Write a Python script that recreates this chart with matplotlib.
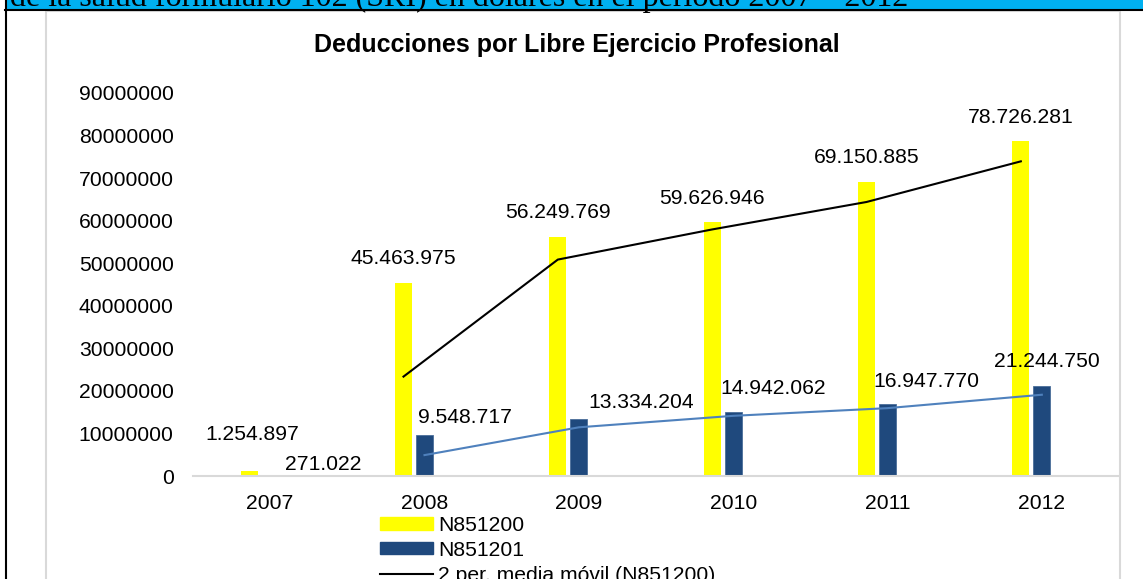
import matplotlib.pyplot as plt
from matplotlib.patches import Rectangle, Patch
from matplotlib.lines import Line2D
import pandas as pd

plt.rcParams['font.family'] = ['Liberation Sans', 'DejaVu Sans']

years = ['2007', '2008', '2009', '2010', '2011', '2012']
n851200 = [1254897, 45463975, 56249769, 59626946, 69150885, 78726281]
n851201 = [271022, 9548717, 13334204, 14942062, 16947770, 21244750]

title = 'Deducciones por Libre Ejercicio Profesional'
banner = 'de la salud formulario 102 (SRI) en dólares en el período 2007 – 2012'

# label offsets from the top of each bar, in pixels (dx, up)
lab200 = [(3, 36), (0, 24), (0, 24), (0, 24), (0, 24), (0, 23)]
lab201 = [(53, 10), (41, 18), (62, 17), (40, 24), (39, 22), (5, 24)]

W, H = 1143, 579
fig = plt.figure(figsize=(W / 100, H / 100), dpi=100)


def fx(px):
    return px / W


def fy(py):
    return 1 - py / H


# page decoration around the chart
fig.add_artist(Rectangle((fx(7), fy(9)), 1 - fx(7), 9 / H, transform=fig.transFigure,
                         facecolor='#00B0F0', edgecolor='none', zorder=0))
fig.text(fx(10), fy(6), banner, family='Liberation Serif', fontsize=23,
         va='baseline', ha='left', color='black')
fig.add_artist(Line2D([fx(5), 1], [fy(10), fy(10)], transform=fig.transFigure,
                      color='black', lw=1.5))
fig.add_artist(Line2D([fx(6), fx(6)], [fy(0), 0], transform=fig.transFigure,
                      color='black', lw=1.5))
fig.add_artist(Rectangle((fx(46), fy(620)), fx(1120) - fx(46), (620 - 11) / H,
                         transform=fig.transFigure, facecolor='none',
                         edgecolor='#D9D9D9', lw=1.5))

ax = fig.add_axes([fx(193), fy(476), (1119 - 193) / W, (476 - 93) / H])
ax.patch.set_visible(False)

x = list(range(len(years)))
cat_px = (1119 - 193) / len(years)
bw = 17 / cat_px
off = 21 / cat_px
x200 = [i - off for i in x]
x201 = list(x)

ax.bar(x200, n851200, width=bw, color='#FFFF00', zorder=2)
ax.bar(x201, n851201, width=bw, color='#1F497D', edgecolor='#4A6E9A', lw=0.6, zorder=2)

ma200 = pd.Series(n851200).rolling(2).mean()
ma201 = pd.Series(n851201).rolling(2).mean()
ax.plot(x200[1:], ma200[1:], color='black', lw=1.5, zorder=3)
ax.plot(x201[1:], ma201[1:], color='#4F81BD', lw=1.5, zorder=3)


def fmt(v):
    return f'{v:,}'.replace(',', '.')


for xs, vals, offs in [(x200, n851200, lab200), (x201, n851201, lab201)]:
    for xi, v, (dx, dy) in zip(xs, vals, offs):
        ax.annotate(fmt(v), xy=(xi, v), xytext=(dx * 0.72, dy * 0.72),
                    textcoords='offset points', ha='center', va='center',
                    fontsize=15.2, zorder=4)

ax.set_xlim(-0.5, len(years) - 0.5)
ax.set_ylim(0, 90000000)
ax.set_yticks(range(0, 90000001, 10000000))
ax.set_yticklabels([str(t) for t in range(0, 90000001, 10000000)])
ax.set_xticks(x)
ax.set_xticklabels(years)
for s in ['left', 'right', 'top']:
    ax.spines[s].set_visible(False)
ax.spines['bottom'].set_color('#D9D9D9')
ax.spines['bottom'].set_linewidth(1.5)
ax.tick_params(axis='both', length=0, labelsize=15.2)
ax.tick_params(axis='y', pad=14)
ax.tick_params(axis='x', pad=13)

fig.text(fx(577), fy(45), title, ha='center', va='center', fontsize=18,
         fontweight='bold')

handles = [Patch(color='#FFFF00'), Patch(color='#1F497D'),
           Line2D([], [], color='black', lw=1.5), Line2D([], [], color='#4F81BD', lw=1.5)]
labels = ['N851200', 'N851201', '2 per. media móvil (N851200)',
          '2 per. media móvil (N851201)']
ax.legend(handles, labels, loc='upper left', bbox_to_anchor=(fx(380), fy(516)),
          bbox_transform=fig.transFigure, frameon=False, borderpad=0,
          borderaxespad=0, fontsize=15.2, handlelength=2.5, handleheight=0.5,
          handletextpad=0.25, labelspacing=0.28)

fig.savefig('out.png', dpi=100)
